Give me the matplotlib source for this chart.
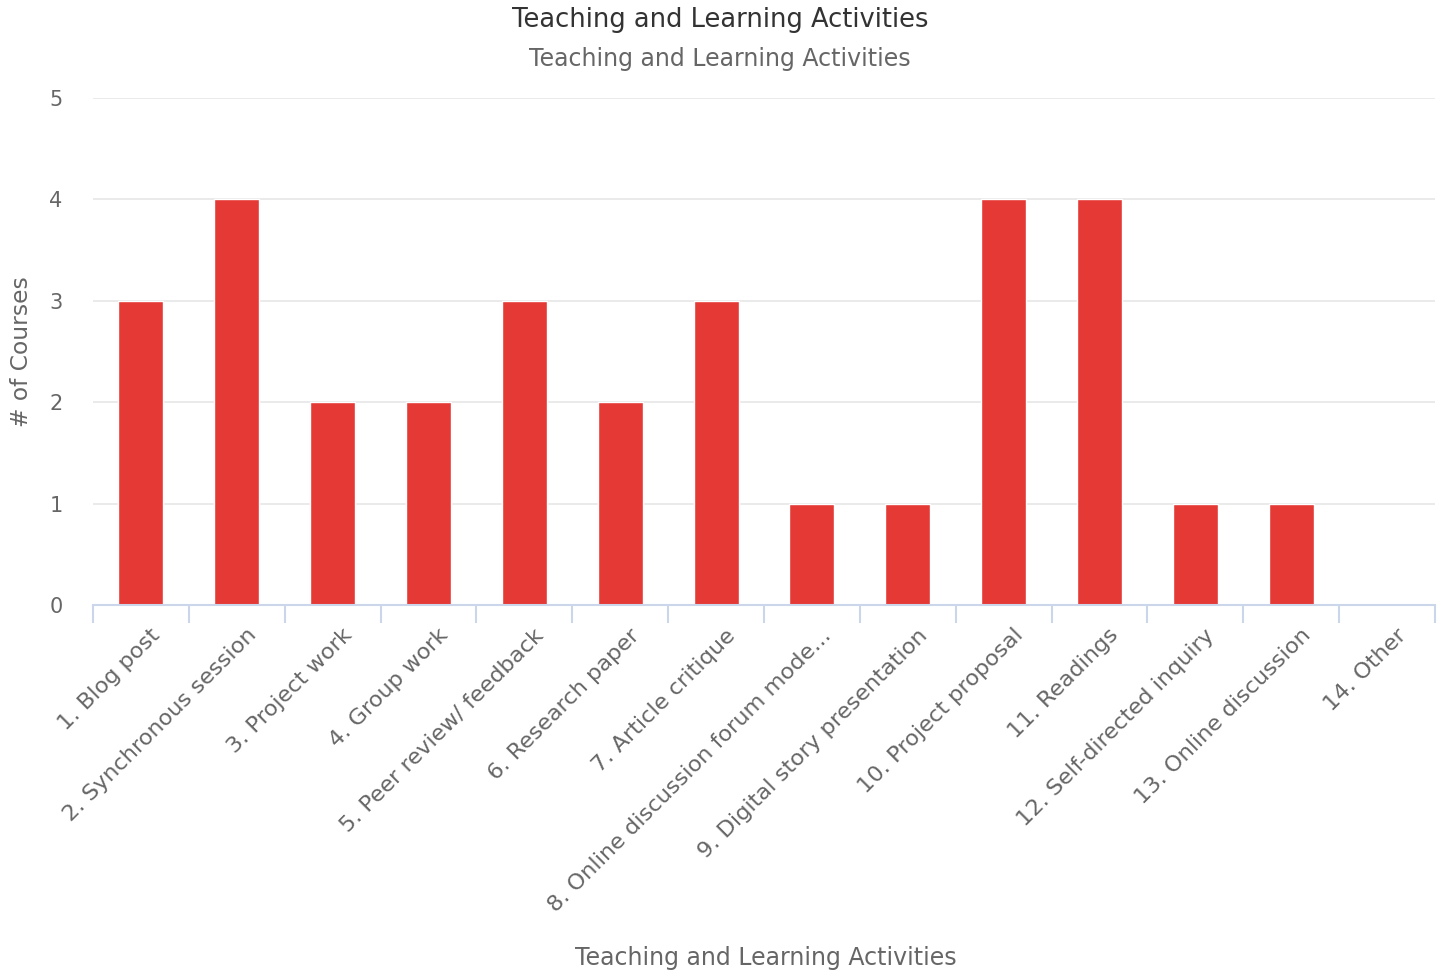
import matplotlib
matplotlib.use("Agg")
import matplotlib.pyplot as plt
import numpy as np

plt.rcParams['font.family'] = ['DejaVu Sans']

categories = ["1. Blog post", "2. Synchronous session", "3. Project work", "4. Group work",
              "5. Peer review/ feedback", "6. Research paper", "7. Article critique",
              "8. Online discussion forum mode...", "9. Digital story presentation",
              "10. Project proposal", "11. Readings", "12. Self-directed inquiry",
              "13. Online discussion", "14. Other"]
values = [3, 4, 2, 2, 3, 2, 3, 1, 1, 4, 4, 1, 1, 0]
yticks = [0, 1, 2, 3, 4, 5]

fig = plt.figure(figsize=(14.45, 9.74), dpi=100)
ax = fig.add_axes([93/1445, 1-605/974, (1435-93)/1445, (605-98)/974])

x = np.arange(len(categories))
ax.bar(x, values, width=0.47, color='#e53935', zorder=3, edgecolor='white', linewidth=1)
ax.set_xlim(-0.5, len(categories)-0.5)
ax.set_ylim(0, 5)
ax.set_yticks(yticks)
ax.set_yticklabels([str(v) for v in yticks], fontsize=15, color='#666666')
ax.tick_params(axis='y', length=0, pad=22)
ax.yaxis.grid(True, color='#e6e6e6', linewidth=1.2, zorder=0)
ax.set_axisbelow(True)

for s in ['top', 'right', 'left']:
    ax.spines[s].set_visible(False)
ax.spines['bottom'].set_color('#ccd6eb')
ax.spines['bottom'].set_linewidth(1.5)
ax.spines['bottom'].set_zorder(4)

ax.set_xticks(np.arange(-0.5, len(categories), 1.0))
ax.set_xticklabels([])
ax.tick_params(axis='x', length=13, width=1.5, color='#ccd6eb', direction='out')

for i, lab in enumerate(categories):
    ax.annotate(lab, xy=(i, 0), xycoords=('data', 'axes fraction'),
                xytext=(9, -20), textcoords='offset pixels',
                rotation=45, ha='right', va='top', rotation_mode='anchor',
                fontsize=16.2, color='#666666')

fig.text(22/1445, 1-352/974, "# of Courses", rotation=90, ha='center', va='center',
         fontsize=16.8, color='#666666')
fig.text(766/1445, 1-958/974, "Teaching and Learning Activities", ha='center', va='center',
         fontsize=17, color='#666666')
fig.text(720/1445, 1-20/974, "Teaching and Learning Activities", ha='center', va='center',
         fontsize=18.5, color='#333333')
fig.text(720/1445, 1-59/974, "Teaching and Learning Activities", ha='center', va='center',
         fontsize=17, color='#666666')

fig.savefig("out.png", dpi=100, facecolor='white')
